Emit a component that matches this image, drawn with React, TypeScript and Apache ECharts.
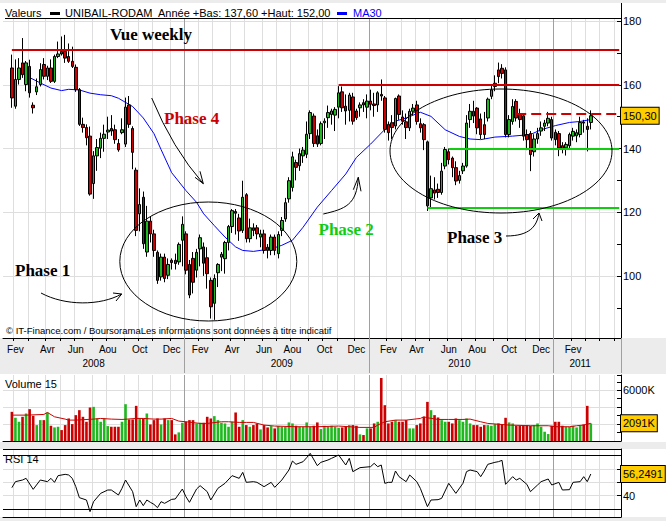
import React, { useEffect, useRef } from "react";
import * as echarts from "echarts";

// ---------- data ----------
const FIRST_CANDLE_UTC = Date.UTC(2008, 0, 28); // week of the first candle (Monday)
const PAD_BEFORE = 2;
const PAD_AFTER = 8;

// weekly candles: [open, close, low, high]
const ohlc: number[][] = [
  [165.3,155.9,152.8,169.5],[153.3,161.7,152.5,168.0],[161.7,165.3,160.1,168.4],[166.9,163.2,162.2,174.7],
  [160.1,166.9,158.0,167.5],[165.8,157.5,156.0,167.9],[153.6,152.8,151.0,154.5],[157.8,159.4,156.8,162.0],
  [160.1,164.8,159.5,166.8],[166.4,162.7,161.7,168.4],[162.7,165.3,161.5,166.0],[165.3,161.1,160.6,168.0],
  [161.1,168.9,160.6,169.5],[168.9,169.7,168.4,173.6],[170.5,169.7,169.2,175.2],[170.5,168.4,166.9,175.7],
  [168.9,167.4,166.9,173.0],[167.4,165.8,165.3,172.0],[165.5,158.5,157.8,166.4],[158.5,147.6,147.1,159.0],
  [147.6,146.6,145.0,149.7],[146.6,143.4,141.0,147.6],[143.9,125.7,125.2,146.9],[129.0,137.7,124.2,139.2],
  [137.7,140.3,133.0,143.0],[140.1,143.2,137.0,145.0],[143.2,144.5,139.0,147.5],[145.2,145.8,143.0,150.0],
  [146.3,145.5,144.0,150.5],[145.9,142.8,141.5,147.5],[141.6,139.6,139.0,143.0],[145.0,145.9,144.5,149.5],
  [141.4,153.0,140.5,156.0],[153.7,147.6,146.5,156.5],[146.3,138.8,133.5,147.0],[133.2,114.3,112.5,134.0],
  [119.5,122.4,114.0,127.5],[124.7,110.1,108.5,126.5],[107.5,117.2,106.0,122.0],[117.2,113.2,110.5,118.5],
  [113.2,108.0,106.0,114.5],[107.4,98.6,97.5,108.0],[99.7,105.9,98.5,107.0],[105.9,99.2,98.0,107.0],
  [100.2,103.6,99.0,105.5],[104.9,104.2,102.0,105.5],[104.9,103.9,102.0,107.0],[104.4,109.9,103.5,110.5],
  [111.2,116.2,103.0,118.7],[113.2,101.8,100.5,114.0],[103.6,94.0,93.0,105.0],[105.5,98.0,94.5,107.5],
  [101.8,107.4,99.5,108.5],[108.5,112.0,103.0,113.0],[109.1,104.0,100.0,110.5],[105.7,100.7,96.0,109.0],
  [98.6,90.3,86.6,99.5],[91.4,99.2,86.2,100.5],[101.0,103.6,96.5,104.0],[105.9,106.8,101.5,107.5],
  [105.4,110.5,100.7,111.0],[110.5,115.5,108.0,116.0],[115.5,120.5,113.5,121.0],[120.2,119.7,113.0,121.0],
  [118.2,114.1,111.0,119.5],[114.3,124.7,113.5,129.9],[125.5,111.7,110.5,126.0],[111.7,115.1,110.5,118.0],
  [115.1,114.3,112.5,116.5],[115.1,113.2,111.5,116.0],[112.2,113.2,109.0,114.5],[113.2,108.0,107.0,114.5],
  [109.0,108.0,105.5,110.0],[108.0,112.2,106.5,113.0],[112.2,108.0,106.5,113.0],[107.0,113.0,105.5,114.0],
  [114.3,117.4,112.5,118.5],[117.9,123.0,117.0,124.5],[124.2,129.9,123.0,131.0],[127.8,137.4,126.5,139.0],
  [135.6,134.1,130.0,136.5],[134.6,138.4,133.0,140.0],[137.7,139.5,135.5,140.5],[138.2,144.5,137.0,148.5],
  [144.7,151.3,143.0,152.0],[150.2,141.6,140.5,151.0],[144.0,141.4,140.5,146.0],[141.6,147.8,141.0,148.5],
  [148.1,148.6,143.0,149.5],[149.7,151.3,146.5,153.5],[150.7,151.8,147.5,152.5],[150.5,152.3,145.5,153.0],
  [153.0,157.5,149.5,159.6],[157.8,152.8,151.5,159.5],[153.3,151.8,147.5,157.0],[152.0,156.8,148.5,157.5],
  [156.2,148.6,147.5,157.5],[151.8,149.7,149.0,152.5],[152.8,153.7,150.0,154.5],[154.4,153.7,151.5,155.5],
  [153.0,154.9,149.5,157.0],[154.9,153.9,152.0,158.5],[154.0,153.5,150.0,157.5],[153.7,157.5,151.5,158.0],
  [157.0,156.5,155.0,161.7],[155.9,146.0,145.0,156.5],[147.6,145.0,142.5,148.5],[148.1,146.6,143.0,150.5],
  [147.1,155.7,146.0,156.0],[156.5,150.7,149.0,157.0],[149.9,148.6,147.5,152.0],[148.4,146.6,143.0,151.0],
  [146.5,151.7,145.5,152.5],[151.7,152.7,150.5,154.0],[153.7,148.5,147.5,155.0],[147.8,146.5,145.0,149.5],
  [147.5,142.8,139.5,148.0],[142.1,122.0,120.4,142.5],[124.5,127.4,121.5,131.5],[127.0,126.0,124.0,131.0],
  [127.2,126.2,124.5,129.0],[126.2,132.9,125.5,135.5],[134.5,139.7,133.5,140.5],[139.0,136.5,135.0,140.0],
  [137.0,134.0,131.0,137.5],[134.0,129.8,128.5,136.0],[130.0,131.5,129.0,133.0],[133.0,134.5,132.0,135.5],
  [134.5,148.0,134.0,150.5],[149.1,151.7,146.5,154.0],[151.7,150.2,148.0,155.0],[152.7,146.5,144.5,153.0],
  [149.3,144.4,143.0,151.0],[147.5,144.4,143.0,151.5],[149.6,155.5,148.5,156.0],[156.4,158.4,155.5,160.0],
  [159.5,160.5,158.0,163.0],[164.7,162.6,160.5,167.0],[165.2,163.6,162.0,166.5],[164.7,144.4,143.5,165.5],
  [144.4,149.1,143.5,150.5],[148.5,153.2,147.5,155.5],[154.8,149.6,148.5,155.5],[151.0,149.1,146.5,152.5],
  [150.3,143.9,142.5,151.0],[144.4,142.8,139.5,146.0],[144.7,138.1,132.9,145.5],[139.0,143.0,137.5,144.5],
  [143.0,144.7,141.5,146.5],[145.5,146.5,144.0,148.5],[147.0,148.0,145.5,149.0],[148.0,149.5,147.0,151.5],
  [149.1,143.3,142.5,150.0],[145.1,142.8,141.0,146.0],[144.7,140.2,137.6,145.5],[140.9,139.9,138.5,142.0],
  [140.2,141.3,137.8,142.0],[140.9,144.4,140.0,145.0],[143.9,145.4,142.5,146.5],[144.0,145.0,142.0,146.0],
  [144.4,148.2,143.5,150.0],[148.3,148.0,145.0,149.0],[147.0,146.0,139.1,149.5],[148.2,150.3,146.0,152.0],
];

// weekly volume, thousands of shares
const volumeK: number[] = [
  3448,2742,2272,2860,3252,3762,2978,1880,2468,2468,
  3370,1802,1606,1684,1292,1880,2664,1998,3056,3644,
  2860,2272,3958,4036,2664,2272,2664,1762,1684,1684,
  1684,2272,4350,2546,2546,4154,2664,2664,3252,1958,
  2468,2664,1958,2664,2468,2468,782,1018,2154,2272,
  2468,2468,2076,2154,2154,2860,2664,2938,2468,2154,
  2076,1684,2272,3370,1684,2468,1880,1684,1880,2076,
  1370,1880,1606,1762,1488,1762,1684,1684,2194,2076,
  1802,1684,1684,2194,1684,1802,2194,1410,1802,1684,
  1802,1684,1566,1606,1762,1880,1880,1802,782,704,
  1488,1488,2076,2272,7446,4232,2076,2272,2468,2272,
  2272,2468,1488,1488,1880,2076,2860,4624,3644,3056,
  2782,2468,2272,2272,2076,2664,2468,2272,2664,2076,
  1880,1880,1684,1880,1880,1802,1998,2076,1958,2742,
  2194,2076,1802,1802,1802,1880,1802,1880,2076,1684,
  1096,822,1802,2272,2272,1802,1684,1684,1802,1606,
  1802,1958,4154,2076,
];

// [candle index, value]
const ma30: number[][] = [
  [5,162.3],[8,160.6],[11,159],[14,158.2],[16,158.6],[19,158.4],[22,157.4],[25,156.9],[28,156.6],[30,155.8],
  [34,153.2],[37,149.6],[40,144.7],[42,139.7],[45,132.4],[49,126.8],[52,123.1],[54,119.5],[57,115.8],[60,112.2],
  [63,109.1],[65,108],[68,107.7],[73,108.5],[76,109.6],[79,111.2],[82,115.3],[86,121.6],[90,126.8],[94,132],
  [97,137.2],[101,141.4],[105,146],[108,148.6],[111,149.6],[115,151.4],[118,150.1],[122,145.9],[126,143.8],
  [129,143],[132,142.8],[136,143.6],[141,143.9],[146,144.4],[149,145.9],[153,147.2],[157,148.2],[160,148.5],[163,149.1],
];

const volumeMa15: number[][] = [
  [0,3058],[4,3058],[9,3136],[10,3371],[12,2862],[15,2588],[16,2470],[18,2470],[23,2588],[25,2666],
  [28,2588],[31,2548],[35,2666],[37,2666],[40,2588],[42,2588],[45,2666],[47,2352],[49,2274],[53,2078],
  [55,2078],[59,2274],[61,2274],[64,2196],[66,2196],[68,2196],[71,1882],[74,1764],[80,1686],[86,1686],
  [92,1764],[98,1608],[102,1608],[103,1882],[105,2274],[108,2470],[111,2470],[115,2666],[116,2862],[117,2744],
  [120,2548],[123,2548],[127,2548],[129,2588],[132,2274],[134,2078],[140,1882],[146,1804],[151,1804],[153,1686],
  [157,1686],[159,1804],[161,1882],[163,2091],
];

const rsi14: number[][] = [
  [0,46],[1,50.5],[3,51.75],[4,53],[6,44.75],[8,51.75],[10,50.5],[11,53],[12,50],[13,55],[15,56],[16,55.5],
  [17,53],[18,46.75],[19,38.5],[21,36.75],[22,28],[23,35.5],[25,41.75],[27,44.25],[28,44.25],[30,40.5],[31,45.5],
  [32,51.75],[34,43],[35,31.75],[36,36.75],[37,32.5],[38,36.75],[39,35],[40,33.5],[41,31],[42,35.5],[43,34.25],
  [45,37.25],[46,37.5],[48,45],[49,39.25],[50,35],[52,45],[53,47.5],[55,43],[56,36.75],[58,45.5],[60,49.25],
  [62,55],[64,53],[65,57.5],[66,50],[68,50.5],[69,50],[71,46.75],[73,50],[74,46.25],[76,51.75],[78,59.25],
  [79,66],[80,63.5],[82,65.5],[83,68.5],[84,71.75],[86,62.5],[87,65],[89,66.75],[90,68],[92,70.5],[93,66.75],
  [94,63],[95,68],[96,58],[98,61],[101,61.75],[102,64.25],[103,61.75],[104,63],[105,49.25],[106,50],[107,50],
  [108,58.5],[109,54.25],[111,50.5],[112,55.5],[114,50.5],[115,45.5],[117,31.75],[118,36.75],[120,37],[121,38],
  [123,49.25],[124,45.5],[125,41.75],[127,49.25],[128,58],[129,59.25],[131,58],[132,54.25],[133,58.5],[134,63.5],
  [136,65],[137,65.5],[138,66.5],[139,48.5],[141,54.25],[142,51.75],[143,53],[145,48.5],[146,43],[148,48],
  [149,50.5],[151,52.5],[152,48],[154,50],[155,44.25],[157,44.5],[158,50],[160,50.5],[161,54.25],[162,50.5],[163,56.25],
];

// support / resistance lines drawn by the analyst: [price, first candle index]
const redLevels: number[][] = [[171, 0], [160, 92]];
const redDashedLevels: number[][] = [[151, 142]];
const greenLevels: number[][] = [[140, 123], [121.5, 117]];

const monthNames = ["Jan", "Fev", "Mar", "Avr", "Mai", "Jun", "Jul", "Aou", "Sep", "Oct", "Nov", "Dec"];
const yearLabelWeeks: Record<string, string> = {
  "2008-07-07": "2008", "2009-07-13": "2009", "2010-06-28": "2010", "2011-02-21": "2011",
};
const priceTickLabels = [100, 120, 140, 160, 180];
const volumeTickLabels = [6000];
const rsiTickLabels = [40];
const rsiBands = [30, 70];
const lastClose = 150.3;
const lastVolumeMa = 2091;
const lastRsi = 56.2491;

// ---------- styling ----------
const GREEN = "#1fb81f";
const RED = "#cc0000";
const LIGHT = "#dedede";
const YEARLINE = "#a0a0a0";
const SANS = "Liberation Sans";
const SERIF = "Liberation Serif";

const WEEK = 7 * 864e5;
const START = FIRST_CANDLE_UTC - PAD_BEFORE * WEEK;
const N = PAD_BEFORE + ohlc.length + PAD_AFTER;
const LAST_CAT = PAD_BEFORE + ohlc.length - 1;
const categories: string[] = Array.from({ length: N }, (_, i) =>
  new Date(START + i * WEEK).toISOString().slice(0, 10)
);

// category index whose left band boundary is nearest to each month start
const monthAt = new Map<number, number>();
for (let y = 2008; y <= 2011; y++) {
  for (let m = 0; m < 12; m++) {
    const t = (Date.UTC(y, m, 1) - START) / WEEK;
    const c = Math.round(t + 0.5);
    if (c > 0 && c < N) monthAt.set(c, m);
  }
}

const GRID_LEFT = 3;
const GRID_W = 618;

function monthAxis(gridIndex: number, main: boolean) {
  return {
    type: "category",
    gridIndex,
    data: categories,
    position: "bottom",
    boundaryGap: true,
    axisLine: { show: true, lineStyle: { color: "#000", width: 1 } },
    axisTick: {
      show: main,
      inside: false,
      length: 3,
      interval: (i: number) => monthAt.has(i),
      lineStyle: { color: "#000" },
    },
    axisLabel: {
      show: main,
      interval: (i: number) => monthAt.has(i) && (monthAt.get(i) as number) % 2 === 1 && i <= LAST_CAT,
      formatter: (_v: string, i: number) => (monthAt.has(i) ? monthNames[monthAt.get(i) as number] : ""),
      color: "#000",
      fontSize: 10,
      fontFamily: SANS,
      margin: 6,
    },
    splitLine: {
      show: true,
      interval: (i: number) => monthAt.has(i) && monthAt.get(i) !== 0,
      lineStyle: { color: LIGHT, width: 1 },
    },
  };
}

function yearAxis(gridIndex: number, main: boolean) {
  return {
    type: "category",
    gridIndex,
    data: categories,
    position: "bottom",
    boundaryGap: true,
    axisLine: { show: false },
    axisTick: {
      show: main,
      inside: false,
      length: 35,
      interval: (i: number) => monthAt.get(i) === 0,
      lineStyle: { color: YEARLINE, width: 1 },
    },
    axisLabel: {
      show: main,
      interval: (_i: number, v: string) => v in yearLabelWeeks,
      formatter: (v: string) => yearLabelWeeks[v] || "",
      color: "#000",
      fontSize: 10,
      fontFamily: SANS,
      margin: 20,
    },
    splitLine: {
      show: true,
      interval: (i: number) => monthAt.get(i) === 0,
      lineStyle: { color: YEARLINE, width: 1 },
    },
  };
}

function levelMarks(levels: number[][], color: string, dashed: boolean) {
  return levels.map(([price, from]) => [
    {
      coord: [from + PAD_BEFORE, price],
      lineStyle: { color, width: 2, type: dashed ? [10, 5] : "solid" },
    },
    { coord: [N - 1, price] },
  ]);
}

function buildOption(): any {
  const valueAxisCommon = {
    position: "right",
    axisLine: { show: true, lineStyle: { color: "#000", width: 1 } },
    axisTick: { show: true, inside: true, length: 4, lineStyle: { color: "#000" } },
    splitLine: { show: true, showMinLine: false, showMaxLine: false, lineStyle: { color: LIGHT, width: 1 } },
  };
  return {
    animation: false,
    backgroundColor: "#ececec",
    grid: [
      { left: GRID_LEFT, top: 18, width: GRID_W, height: 320 },
      { left: GRID_LEFT, top: 375, width: GRID_W, height: 66 },
      { left: GRID_LEFT, top: 449, width: GRID_W, height: 68 },
    ],
    xAxis: [monthAxis(0, true), yearAxis(0, true), monthAxis(1, false), yearAxis(1, false), monthAxis(2, false), yearAxis(2, false)],
    yAxis: [
      {
        ...valueAxisCommon,
        type: "value",
        gridIndex: 0,
        min: 80.5,
        max: 181,
        splitNumber: 5,
        minorTick: { show: true, splitNumber: 2, length: 4, lineStyle: { color: "#000" } },
        axisLabel: {
          formatter: (v: number) => (priceTickLabels.includes(v) ? String(v) : ""),
          color: "#000", fontSize: 11, fontFamily: SANS, margin: 2,
        },
      },
      {
        ...valueAxisCommon,
        type: "value",
        gridIndex: 1,
        min: 0,
        max: 7800,
        interval: 2000,
        minorTick: { show: true, splitNumber: 2, length: 4, lineStyle: { color: "#000" } },
        axisLabel: {
          formatter: (v: number) => (volumeTickLabels.includes(v) ? v + "K" : ""),
          color: "#000", fontSize: 11, fontFamily: SANS, margin: 2,
        },
      },
      {
        ...valueAxisCommon,
        type: "value",
        gridIndex: 2,
        min: 24,
        max: 75,
        splitNumber: 5,
        axisLabel: {
          formatter: (v: number) => (rsiTickLabels.includes(v) ? String(v) : ""),
          color: "#000", fontSize: 11, fontFamily: SANS, margin: 2,
        },
      },
    ],
    series: [
      {
        type: "line",
        name: "MA30",
        xAxisIndex: 0,
        yAxisIndex: 0,
        z: 1,
        data: ma30.map(([i, v]) => [i + PAD_BEFORE, v]),
        symbol: "none",
        lineStyle: { color: "#0000ff", width: 1 },
        markLine: {
          silent: true,
          z: 5,
          symbol: ["none", "none"],
          label: { show: false },
          data: [
            ...levelMarks(redLevels, RED, false),
            ...levelMarks(redDashedLevels, RED, true),
            ...levelMarks(greenLevels, "#11cc11", false),
          ],
        },
      },
      {
        type: "candlestick",
        name: "UNIBAIL-RODAM",
        xAxisIndex: 0,
        yAxisIndex: 0,
        z: 2,
        encode: { x: 0, y: [1, 2, 3, 4] },
        data: ohlc.map((d, i) => [i + PAD_BEFORE, d[0], d[1], d[2], d[3]]),
        barWidth: 3,
        itemStyle: { color: GREEN, color0: RED, borderColor: "#000", borderColor0: "#000", borderWidth: 1 },
      },
      {
        type: "bar",
        name: "Volume",
        xAxisIndex: 2,
        yAxisIndex: 1,
        z: 2,
        barWidth: 2.6,
        data: volumeK.map((v, i) => ({
          value: [i + PAD_BEFORE, v],
          itemStyle: { color: ohlc[i][1] >= ohlc[i][0] ? GREEN : RED },
        })),
      },
      {
        type: "line",
        name: "Volume 15",
        xAxisIndex: 2,
        yAxisIndex: 1,
        z: 3,
        symbol: "none",
        data: volumeMa15.map(([i, v]) => [i + PAD_BEFORE, v]),
        lineStyle: { color: RED, width: 1 },
      },
      {
        type: "line",
        name: "RSI 14",
        xAxisIndex: 4,
        yAxisIndex: 2,
        z: 3,
        symbol: "none",
        data: rsi14.map(([i, v]) => [i + PAD_BEFORE, v]),
        lineStyle: { color: "#000", width: 1 },
        markLine: {
          silent: true,
          symbol: ["none", "none"],
          label: { show: false },
          lineStyle: { color: "#000", width: 1, type: "solid" },
          data: rsiBands.map((v) => ({ yAxis: v })),
        },
      },
    ],
  };
}

function txt(x: number, y: number, text: string, extra: any = {}) {
  return {
    type: "text",
    x,
    y,
    z: 100,
    style: {
      text,
      fontSize: 11,
      fontFamily: SANS,
      fill: "#000",
      align: "left",
      verticalAlign: "middle",
      ...extra,
    },
  };
}

function phase(x: number, y: number, text: string, color: string) {
  return txt(x, y, text, { fontSize: 17, fontFamily: SERIF, fontWeight: "bold", fill: color });
}

function box(y: number, text: string) {
  return txt(621, y, text, {
    backgroundColor: "#ffcc00",
    borderColor: "#000",
    borderWidth: 1,
    padding: [3, 2, 2, 2],
  });
}

function stroke(extra: any = {}) {
  return { stroke: "#000", fill: "none", lineWidth: 1, ...extra };
}

function buildGraphics(yPrice: number, yVol: number, yRsi: number) {
  const bg = (y: number, h: number) => ({
    type: "rect", z: -100, shape: { x: 0, y, width: 666, height: h }, style: { fill: "#ffffff" },
  });
  const hline = (x1: number, x2: number, y: number) => ({
    type: "line", z: 50, shape: { x1, y1: y, x2, y2: y }, style: stroke(),
  });
  const vline = (x: number, y1: number, y2: number) => ({
    type: "line", z: 50, shape: { x1: x, y1, x2: x, y2 }, style: stroke(),
  });
  return [
    bg(3, 335),
    bg(374, 68),
    bg(449, 68),
    hline(5, 621, 18.5),
    vline(621.5, 3, 18),
    hline(3, 621, 449.5),
    // header
    txt(5, 12.5, "Valeurs"),
    { type: "rect", z: 100, shape: { x: 50, y: 12, width: 10, height: 3 }, style: { fill: "#000" } },
    txt(65, 12.5, "UNIBAIL-RODAM"),
    txt(158, 12.5, "Année +Bas: 137,60 +Haut: 152,00"),
    { type: "rect", z: 100, shape: { x: 337, y: 12, width: 10, height: 3 }, style: { fill: "#0000ff" } },
    txt(353, 12.5, "MA30", { fill: "#0000ff" }),
    txt(6, 330, "© IT-Finance.com / BoursoramaLes informations sont données à titre indicatif", { fontSize: 9.5 }),
    txt(5, 383.5, "Volume 15"),
    txt(5, 458.5, "RSI 14"),
    // annotations
    phase(110, 34, "Vue weekly", "#000"),
    phase(164, 118.7, "Phase 4", "#cc0000"),
    phase(15, 270.5, "Phase 1", "#000"),
    phase(318.5, 229, "Phase 2", "#11cc11"),
    phase(447, 237.5, "Phase 3", "#000"),
    { type: "ellipse", z: 60, shape: { cx: 208.3, cy: 261.5, rx: 88.5, ry: 59.5 }, style: stroke() },
    { type: "ellipse", z: 60, shape: { cx: 501, cy: 151, rx: 111, ry: 62 }, style: stroke() },
    // Phase 4 arrow
    { type: "bezierCurve", z: 60, shape: { x1: 151.7, y1: 98, x2: 203.3, y2: 183.7, cpx1: 172.5, cpy1: 148.5 }, style: stroke() },
    { type: "polyline", z: 60, shape: { points: [[200, 171.3], [203.3, 183.7], [195, 177.3]] }, style: stroke() },
    // Phase 1 arrow
    { type: "bezierCurve", z: 60, shape: { x1: 41, y1: 293, x2: 121.7, y2: 294, cpx1: 65, cpy1: 306, cpx2: 100, cpy2: 306 }, style: stroke() },
    { type: "polyline", z: 60, shape: { points: [[113, 293], [121.7, 294], [116, 301]] }, style: stroke() },
    // Phase 2 arrow
    { type: "bezierCurve", z: 60, shape: { x1: 323.3, y1: 214, x2: 358.3, y2: 177.3, cpx1: 345, cpy1: 209, cpx2: 357, cpy2: 205 }, style: stroke() },
    { type: "polyline", z: 60, shape: { points: [[353.3, 189.7], [358.3, 177.3], [361, 191.3]] }, style: stroke() },
    // Phase 3 arrow
    { type: "bezierCurve", z: 60, shape: { x1: 506, y1: 236, x2: 539, y2: 213, cpx1: 530, cpy1: 236, cpx2: 537, cpy2: 226 }, style: stroke() },
    { type: "polyline", z: 60, shape: { points: [[533, 219], [539, 213], [542, 221]] }, style: stroke() },
    // last values
    box(yPrice, String(lastClose.toFixed(2)).replace(".", ",")),
    box(yVol, lastVolumeMa + "K"),
    box(yRsi, String(lastRsi).replace(".", ",")),
  ];
}

export default function App() {
  const ref = useRef<HTMLDivElement>(null);
  useEffect(() => {
    if (!ref.current) return;
    const chart = echarts.init(ref.current, null, { renderer: "svg" });
    chart.setOption(buildOption());
    const yPrice = chart.convertToPixel({ yAxisIndex: 0 } as any, lastClose) as unknown as number;
    const yVol = chart.convertToPixel({ yAxisIndex: 1 } as any, lastVolumeMa) as unknown as number;
    const yRsi = chart.convertToPixel({ yAxisIndex: 2 } as any, lastRsi) as unknown as number;
    chart.setOption({ graphic: { elements: buildGraphics(yPrice, yVol, yRsi) } });
    return () => chart.dispose();
  }, []);
  return (
    <div
      ref={ref}
      style={{ position: "absolute", left: 0, top: 0, width: 666, height: 521 }}
    />
  );
}
